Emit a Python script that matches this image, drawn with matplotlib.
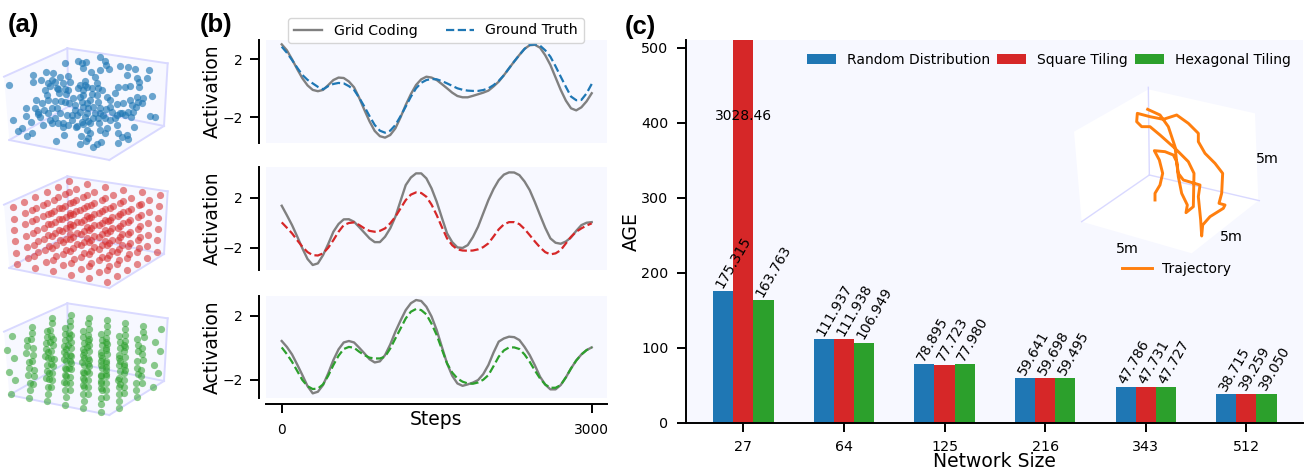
import numpy as np
import matplotlib
matplotlib.use('Agg')
import matplotlib.pyplot as plt

FIG_W, FIG_H = 1307, 470
BG = '#f7f8ff'
PANE_EDGE = '#d9d9ff'
BLUE = '#1f77b4'
RED = '#d62728'
GREEN = '#2ca02c'
ORANGE = '#ff7f0e'
GRAY = '#808080'

# panel (b): activation curves read every 50 steps
steps = list(range(0, 3001, 50))
grid_top = [3.03, 2.62, 2.0, 1.32, 0.69, 0.2, -0.11, -0.2, -0.11, 0.22, 0.57, 0.74, 0.71, 0.47, 0.07,
            -0.66, -1.49, -2.28, -2.94, -3.3, -3.40, -3.22, -2.76, -2.0, -1.15, -0.4, 0.23, 0.62, 0.80,
            0.74, 0.57, 0.29, 0.0, -0.3, -0.53, -0.62, -0.62, -0.52, -0.41, -0.3, -0.16, 0.13, 0.46,
            0.9, 1.38, 1.85, 2.30, 2.72, 2.97, 3.0, 2.80, 2.28, 1.61, 0.75, -0.11, -0.85, -1.38, -1.52,
            -1.31, -0.9, -0.34]
truth_top = [2.87, 2.45, 1.95, 1.42, 0.92, 0.58, 0.34, 0.1, -0.07, 0.15, 0.30, 0.37, 0.34, 0.15, -0.11,
             -0.65, -1.26, -1.92, -2.53, -2.92, -3.06, -2.92, -2.53, -1.92, -1.26, -0.58, 0.0, 0.38, 0.57,
             0.64, 0.62, 0.5, 0.34, 0.17, 0.0, -0.1, -0.16, -0.18, -0.18, -0.12, 0.0, 0.22, 0.51,
             0.9, 1.38, 1.85, 2.30, 2.72, 2.99, 3.03, 2.94, 2.62, 2.18, 1.52, 0.80, 0.1, -0.57, -0.82,
             -0.80, -0.35, 0.30]
grid_mid = [1.36, 0.6, -0.19, -1.1, -2.05, -2.9, -3.38, -3.25, -2.59, -1.7, -0.72, -0.1, 0.27, 0.28, 0.08,
            -0.35, -0.80, -1.25, -1.55, -1.55, -1.12, -0.45, 0.48, 1.75, 3.01, 3.62, 3.95, 3.95, 3.55,
            2.75, 1.68, 0.4, -0.85, -1.55, -1.97, -2.02, -1.79, -1.15, -0.32, 0.75, 1.81, 2.7, 3.41,
            3.85, 4.03, 4.02, 3.81, 3.3, 2.61, 1.65, 0.61, -0.4, -1.25, -1.6, -1.68, -1.5, -1.17, -0.65,
            -0.19, 0.0, 0.05]
truth_mid = [0.03, -0.4, -0.85, -1.4, -1.92, -2.35, -2.59, -2.62, -2.45, -2.0, -1.39, -0.72, -0.19, -0.02, 0.03,
             -0.18, -0.45, -0.65, -0.72, -0.65, -0.45, -0.05, 0.48, 1.15, 1.81, 2.25, 2.43, 2.38, 2.08,
             1.45, 0.61, -0.35, -1.25, -1.8, -2.13, -2.22, -2.24, -2.22, -2.13, -1.95, -1.65, -1.1, -0.53,
             -0.13, 0.05, 0.05, -0.11, -0.5, -0.99, -1.5, -1.97, -2.35, -2.53, -2.45, -2.19, -1.65, -1.12, -0.72,
             -0.45, -0.22, -0.05]
grid_low = [0.42, 0.05, -0.42, -1.05, -1.71, -2.4, -2.85, -2.75, -2.33, -1.6, -0.77, -0.1, 0.33, 0.42, 0.33,
            0.0, -0.35, -0.72, -0.92, -0.85, -0.46, 0.2, 1.0, 1.7, 2.35, 2.78, 2.98, 2.92, 2.56,
            1.95, 1.10, 0.05, -0.98, -1.75, -2.23, -2.38, -2.29, -2.18, -2.02, -1.65, -1.08, -0.3, 0.38,
            0.58, 0.69, 0.66, 0.48, 0.05, -0.46, -1.1, -1.81, -2.3, -2.60, -2.6, -2.33, -1.85, -1.29, -0.8,
            -0.42, -0.15, 0.02]
truth_low = [0.02, -0.4, -0.88, -1.45, -2.02, -2.4, -2.58, -2.55, -2.29, -1.75, -1.08, -0.5, -0.08, 0.05, 0.0,
             -0.25, -0.46, -0.62, -0.67, -0.67, -0.56, -0.05, 0.58, 1.2, 1.83, 2.25, 2.42, 2.35, 2.08,
             1.5, 0.79, -0.1, -0.98, -1.55, -1.92, -2.12, -2.23, -2.25, -2.17, -2.0, -1.71, -1.15, -0.56,
             -0.17, 0.02, 0.02, -0.08, -0.42, -0.88, -1.42, -1.92, -2.3, -2.50, -2.5, -2.33, -1.85, -1.29, -0.8,
             -0.42, -0.15, 0.02]

# panel (c): bars
sizes = ['27', '64', '125', '216', '343', '512']
random_age = [175.315, 111.937, 78.895, 59.641, 47.786, 38.715]
square_age = [3028.46, 111.938, 77.723, 59.698, 47.731, 39.259]
hexagonal_age = [163.763, 106.949, 77.980, 59.495, 47.727, 39.050]

# panel (a): random cloud, picture position
cloud = [(27,255),(40,360),(55,393),(65,385),(80,407),(95,398),(78,323),(78,347),(93,365),
         (107,300),(125,308),(115,335),(115,342),(132,330),(155,325),(170,325),(145,300),
         (165,303),(183,303),(195,305),(208,310),(100,225),(100,245),(123,240),(138,216),
         (160,218),(157,240),(145,250),(135,270),(150,258),(165,245),(180,230),(205,228),
         (210,245),(195,190),(235,182),(247,188),(258,187),(250,205),(300,170),(315,182),
         (318,195),(300,210),(328,207),(360,198),(385,202),(405,208),(448,210),(380,226),
         (272,217),(285,232),(290,250),(255,243),(240,255),(235,265),(175,268),(195,268),
         (178,280),(198,282),(250,270),(262,262),(275,265),(295,265),(305,270),(250,285),
         (277,282),(290,285),(295,305),(320,290),(330,300),(345,280),(353,262),(375,262),
         (390,258),(418,262),(412,235),(440,235),(418,245),(455,287),(390,300),(415,305),
         (430,295),(408,320),(370,310),(350,312),(330,320),(317,328),(385,335),(400,335),
         (393,352),(365,340),(345,355),(360,340),(450,347),(466,352),(350,375),(403,382),
         (355,430),(382,405),(365,412),(385,418),(245,305),(262,310),(250,320),(265,325),
         (225,315),(240,335),(260,340),(232,345),(255,350),(285,340),(300,340),(315,355),
         (330,360),(295,355),(265,362),(250,372),(228,380),(270,368),(298,368),(215,360),
         (190,368),(175,370),(155,368),(130,375),(188,380),(150,360),(320,385),(315,400),
         (300,390),(355,398),(243,407),(270,400),(265,415),(258,423),(192,405),(167,424),
         (240,433),(303,425),(292,433),(278,442),(165,355),(200,345),(225,330),(140,285),
         (105,325),(255,255),(270,300),(280,320),(300,325),(240,290),(215,345),(245,365),
         (280,355),(310,345),(335,335),(375,345),(395,315),(410,290),(425,310),(180,340),
         (145,340),(120,350),(205,270),(190,250),(170,265),(220,295),(350,345),(260,390),
         (230,378),(205,375)]

square_axis = [0.05, 0.23, 0.41, 0.59, 0.77, 0.95]
hex_a = [0.0, 0.18, 0.36, 0.54, 0.72, 0.90]
hex_b = [0.97, 0.80, 0.65, 0.48, 0.33, 0.18]
hex_c = [0.0, 0.175, 0.35, 0.525, 0.70, 0.875]

# panel (c) inset
traj_x = [315, 315, 330, 338, 328, 313, 345, 370, 380, 385, 400, 450, 445, 452, 455, 458,
          480, 520, 525, 507, 515, 518, 495, 465, 445, 445, 415, 380, 340, 300, 262, 260,
          275, 300, 330, 375, 415, 432, 430, 408, 412, 395, 385, 375, 355, 330, 293]
traj_y = [360, 340, 315, 280, 240, 212, 215, 225, 245, 280, 300, 315, 350, 420, 468, 435,
          410, 385, 375, 370, 340, 280, 250, 220, 185, 160, 130, 105, 118, 110, 100, 125,
          140, 140, 165, 205, 245, 280, 380, 398, 375, 340, 290, 200, 140, 105, 88]


def px_axes(fig, x0, y0, x1, y1):
    """Axes placed by pixel box, y counted from the top of the picture."""
    return fig.add_axes([x0 / FIG_W, 1 - y1 / FIG_H, (x1 - x0) / FIG_W, (y1 - y0) / FIG_H])


def project(a, b, c, dy=0):
    """Trilinear map from box coordinates to the picture of the 3D box."""
    bottom = (1 - a) * (1 - b) * np.array([205, 320]) + a * (1 - b) * np.array([492, 378]) \
        + (1 - a) * b * np.array([28, 420]) + a * b * np.array([328, 480])
    top = (1 - a) * (1 - b) * np.array([202, 145]) + a * (1 - b) * np.array([503, 190]) \
        + (1 - a) * b * np.array([12, 230]) + a * b * np.array([330, 275])
    p = (1 - c) * bottom + c * top
    return p[0], p[1] + dy


def draw_box(ax, dy):
    faces = [[(0, 0, 0), (0, 1, 0), (0, 1, 1), (0, 0, 1)],
             [(0, 0, 0), (1, 0, 0), (1, 0, 1), (0, 0, 1)],
             [(0, 0, 0), (1, 0, 0), (1, 1, 0), (0, 1, 0)]]
    for face in faces:
        pts = [project(*q, dy=dy) for q in face]
        ax.fill([p[0] for p in pts], [p[1] for p in pts], color=BG, lw=0, zorder=1)
    edges = [((0, 0, 0), (0, 0, 1)), ((0, 0, 1), (1, 0, 1)), ((1, 0, 1), (1, 0, 0)),
             ((0, 0, 1), (0, 1, 1)), ((0, 0, 0), (1, 0, 0)), ((0, 0, 0), (0, 1, 0)),
             ((0, 1, 0), (1, 1, 0)), ((1, 1, 0), (1, 0, 0))]
    for e0, e1 in edges:
        p0 = project(*e0, dy=dy)
        p1 = project(*e1, dy=dy)
        ax.plot([p0[0], p1[0]], [p0[1], p1[1]], color=PANE_EDGE, lw=1.4, zorder=2)


def draw_panel_a(fig):
    ax = px_axes(fig, 0, 0, 200, 470)
    ax.set_xlim(0, 600)
    ax.set_ylim(1410, 0)
    ax.axis('off')
    ax.patch.set_alpha(0)

    draw_box(ax, 0)
    ax.scatter([p[0] for p in cloud], [p[1] for p in cloud], s=27, color=BLUE, alpha=0.65,
               lw=0, zorder=3)

    draw_box(ax, 384)
    pts = [project(a, b, c, dy=384) for a in square_axis for b in square_axis for c in square_axis]
    ax.scatter([p[0] for p in pts], [p[1] for p in pts], s=27, color=RED, alpha=0.55,
               lw=0, zorder=3)

    draw_box(ax, 765)
    pts = []
    for k, c in enumerate(hex_c):
        for j, b in enumerate(hex_b):
            for a in hex_a:
                pts.append(project(a + 0.09 * (j % 2), b - 0.085 * (k % 2), c, dy=765))
    ax.scatter([p[0] for p in pts], [p[1] for p in pts], s=27, color=GREEN, alpha=0.55,
               lw=0, zorder=3)


def draw_curve_panel(fig, y0, y1, ylim, grid, truth, color):
    ax = px_axes(fig, 265.7, y0, 606.7, y1)
    ax.set_facecolor(BG)
    ax.plot(steps, grid, color=GRAY, lw=1.7, label='Grid Coding')
    ax.plot(steps, truth, color=color, lw=1.6, ls='--', label='Ground Truth')
    ax.set_xlim(-155, 3145)
    ax.set_ylim(*ylim)
    ax.set_yticks([-2, 2])
    ax.set_xticks([])
    for side in ['top', 'right', 'bottom']:
        ax.spines[side].set_visible(False)
    ax.spines['left'].set_position(('outward', 4.8))
    ax.spines['left'].set_linewidth(1.4)
    ax.tick_params(axis='y', labelsize=10, length=6.5, width=1.4, pad=5)
    ax.set_ylabel('Activation', fontsize=13.5)
    ax.yaxis.set_label_coords(-0.128, 0.5)
    return ax


def draw_panel_b(fig):
    ax1 = draw_curve_panel(fig, 40, 143, (-3.77, 3.33), grid_top, truth_top, BLUE)
    ax1.legend(loc='center', bbox_to_anchor=(436 / FIG_W, 1 - 30.5 / FIG_H),
               bbox_transform=fig.transFigure, ncol=2, fontsize=10.2)
    draw_curve_panel(fig, 167, 270, (-3.78, 4.46), grid_mid, truth_mid, RED)
    ax3 = draw_curve_panel(fig, 295.7, 398, (-3.14, 3.25), grid_low, truth_low, GREEN)
    ax3.spines['bottom'].set_visible(True)
    ax3.spines['bottom'].set_position(('outward', 4.3))
    ax3.spines['bottom'].set_linewidth(1.4)
    ax3.set_xticks([0, 3000])
    ax3.tick_params(axis='x', labelsize=10, length=6.5, width=1.4, pad=7)
    ax3.set_xlabel('Steps', fontsize=13.5, va='center')
    ax3.xaxis.set_label_coords(0.5, -0.215)


def draw_panel_c(fig):
    ax = px_axes(fig, 685.7, 40, 1303, 423)
    ax.set_facecolor(BG)
    pos = np.arange(len(sizes))
    width = 0.2
    series = [(random_age, BLUE, 'Random Distribution', -width),
              (square_age, RED, 'Square Tiling', 0),
              (hexagonal_age, GREEN, 'Hexagonal Tiling', width)]
    ymax = 510
    for values, color, name, shift in series:
        ax.bar(pos + shift, values, width, color=color, label=name, lw=0)
        for x, v in zip(pos + shift, values):
            if v > ymax:
                ax.text(x, 409, f'{v:.2f}', fontsize=10, ha='center', va='center')
            else:
                ax.text(x - width / 2, v + 1, f'{v:.3f}', fontsize=10, rotation=60,
                        ha='left', va='bottom')
    ax.set_xlim(-0.573, 5.563)
    ax.set_ylim(0, ymax)
    ax.set_xticks(pos)
    ax.set_xticklabels(sizes)
    ax.set_yticks([0, 100, 200, 300, 400, 500])
    ax.tick_params(axis='both', labelsize=10.3, length=6.5, width=1.4, pad=6)
    for side in ['top', 'right']:
        ax.spines[side].set_visible(False)
    for side in ['left', 'bottom']:
        ax.spines[side].set_linewidth(1.4)
    ax.set_ylabel('AGE', fontsize=13.5)
    ax.yaxis.set_label_coords(-0.0724, 0.5)
    ax.set_xlabel('Network Size', fontsize=13.5, va='center')
    ax.xaxis.set_label_coords(0.5, -0.1)
    ax.legend(loc='center', bbox_to_anchor=(1049 / FIG_W, 1 - 60 / FIG_H),
              bbox_transform=fig.transFigure, ncol=3, fontsize=10, frameon=False,
              columnspacing=0.5, handlelength=2.1, handletextpad=0.8, borderpad=0)

    # 3D trajectory inset, drawn over the bars
    ins = px_axes(fig, 1050, 80, 1280, 290)
    ins.set_xlim(0, 690)
    ins.set_ylim(630, 0)
    ins.axis('off')
    ins.patch.set_alpha(0)
    ins.fill([72, 295, 615, 625, 425, 95], [155, 28, 100, 362, 520, 425], color='white', lw=0)
    ins.plot([295, 298], [22, 285], color=PANE_EDGE, lw=1)
    ins.plot([298, 95], [285, 425], color=PANE_EDGE, lw=1)
    ins.plot([298, 628], [285, 362], color=PANE_EDGE, lw=1)
    ins.plot(traj_x, traj_y, color=ORANGE, lw=2.1)
    ins.plot([215, 305], [565, 565], color=ORANGE, lw=2.1)
    ins.text(337, 567, 'Trajectory', fontsize=10, va='center')
    ins.text(653, 238, '5m', fontsize=10.3, ha='center', va='center')
    ins.text(545, 470, '5m', fontsize=10.3, ha='center', va='center')
    ins.text(232, 508, '5m', fontsize=10.3, ha='center', va='center')


def main():
    fig = plt.figure(figsize=(FIG_W / 100, FIG_H / 100), dpi=100)
    draw_panel_a(fig)
    draw_panel_b(fig)
    draw_panel_c(fig)
    for label, x, y in [('(a)', 8, 25), ('(b)', 200, 25), ('(c)', 625, 27)]:
        fig.text(x / FIG_W, 1 - y / FIG_H, label, fontsize=18.5, fontweight='bold',
                 family='Liberation Sans', va='center')
    fig.savefig('out.png', dpi=100)
    plt.close(fig)


if __name__ == '__main__':
    main()
